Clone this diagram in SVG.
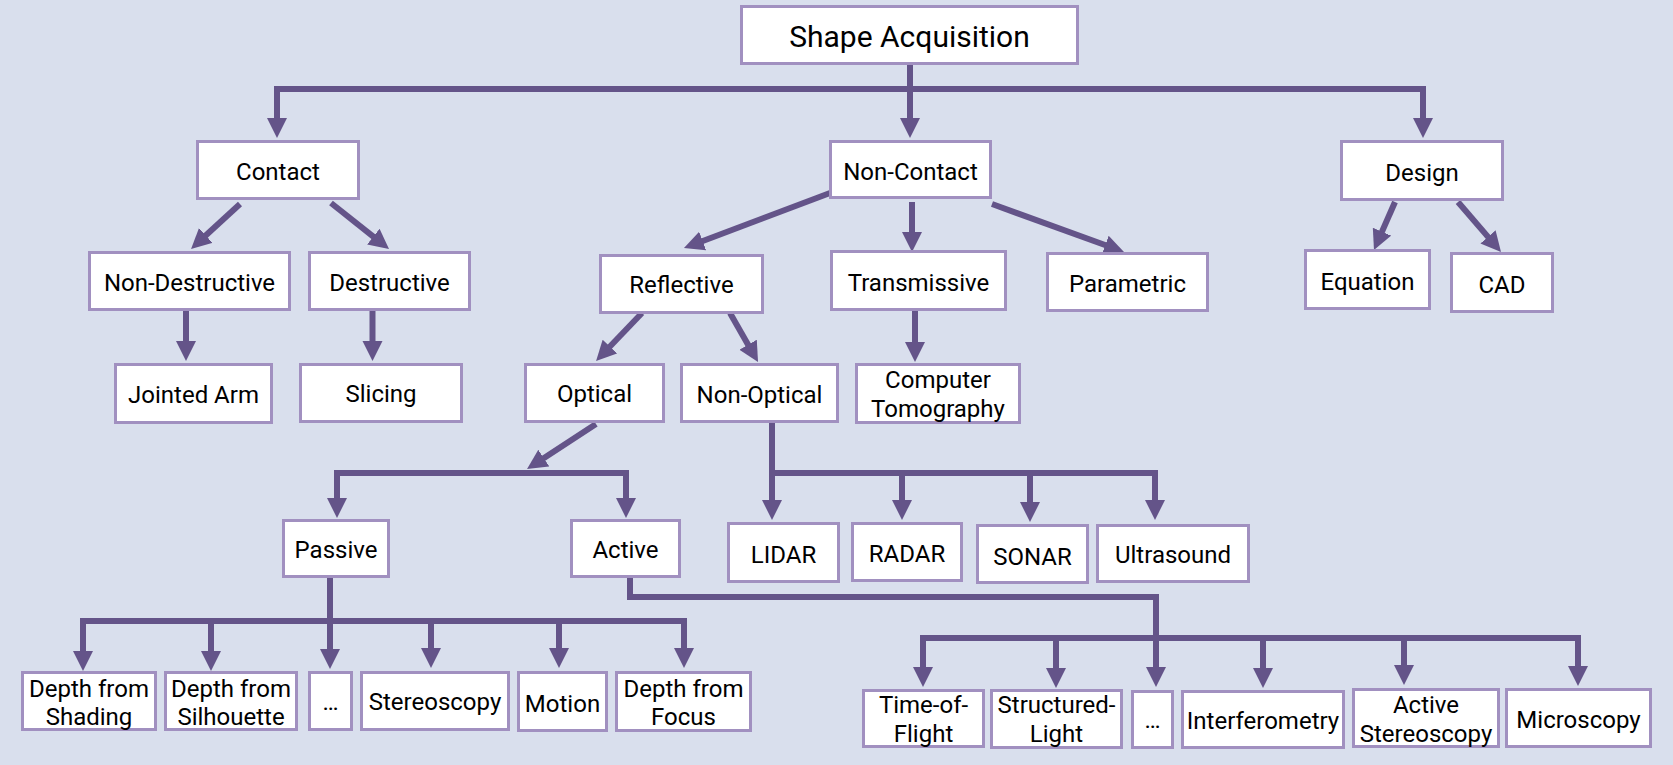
<svg xmlns="http://www.w3.org/2000/svg" width="1673" height="765" viewBox="0 0 1673 765">
<defs>
<marker id="ah" markerUnits="userSpaceOnUse" markerWidth="22" markerHeight="22" refX="2" refY="10" orient="auto">
<path d="M0,0 L20,10 L0,20 z" fill="#645489"/>
</marker>
<style>
.n rect{fill:#fff;stroke:#a190c0;stroke-width:3}
.n text{font-family:Roboto,"Liberation Sans",sans-serif;font-size:24px;fill:#000;text-anchor:middle}
.c path{fill:none;stroke:#645489;stroke-width:6;stroke-linejoin:miter}
.c .a{marker-end:url(#ah)}
</style>
</defs>
<rect width="1673" height="765" fill="#d9dfed"/>
<g class="c">
<path class="a" d="M910,65 V120"/>
<path class="a" d="M910,89 H277 V120"/>
<path class="a" d="M910,89 H1423 V120"/>
<path class="a" d="M240,204 L204.3,236.8"/>
<path class="a" d="M331,203 L374.9,237.8"/>
<path class="a" d="M186,311 V343"/>
<path class="a" d="M372.5,311 V343"/>
<path class="a" d="M830,193 L700.8,241.7"/>
<path class="a" d="M912,202 V234"/>
<path class="a" d="M992,204 L1107.1,245.8"/>
<path class="a" d="M1395,202 L1381.2,233.5"/>
<path class="a" d="M1458,202 L1489.3,238.4"/>
<path class="a" d="M642,313 L608.5,348"/>
<path class="a" d="M730,313 L749.1,346.4"/>
<path class="a" d="M915,311 V344"/>
<path class="a" d="M596,424 L542.1,459.2"/>
<path class="a" d="M527,473 H337 V500"/>
<path class="a" d="M527,473 H626 V500"/>
<path class="a" d="M772,423 V502"/>
<path class="a" d="M772,473 H902 V502"/>
<path class="a" d="M902,473 H1030 V504"/>
<path class="a" d="M1030,473 H1155 V502"/>
<path class="a" d="M330,578 V651"/>
<path class="a" d="M330,621 H83 V653"/>
<path class="a" d="M330,621 H211 V653"/>
<path class="a" d="M330,621 H431 V650"/>
<path class="a" d="M431,621 H559 V650"/>
<path class="a" d="M559,621 H684 V650"/>
<path class="a" d="M630,578 V597 H1156 V669"/>
<path class="a" d="M1156,638 H923 V669"/>
<path class="a" d="M1156,638 H1056 V670"/>
<path class="a" d="M1156,638 H1263 V670"/>
<path class="a" d="M1263,638 H1404 V667"/>
<path class="a" d="M1404,638 H1578 V668"/>
</g>
<g class="n" id="shape-acquisition"><rect x="741.5" y="6.5" width="336" height="57"/><text x="909.5" y="47" style="font-size:30px">Shape Acquisition</text></g>
<g class="n" id="contact"><rect x="197.5" y="141.5" width="161" height="57"/><text x="278" y="180">Contact</text></g>
<g class="n" id="non-contact"><rect x="830.5" y="141.5" width="160" height="56"/><text x="910.5" y="180">Non-Contact</text></g>
<g class="n" id="design"><rect x="1341.5" y="141.5" width="161" height="58"/><text x="1422" y="181">Design</text></g>
<g class="n" id="non-destructive"><rect x="89.5" y="252.5" width="200" height="57"/><text x="189.5" y="291">Non-Destructive</text></g>
<g class="n" id="destructive"><rect x="309.5" y="252.5" width="160" height="57"/><text x="389.5" y="291">Destructive</text></g>
<g class="n" id="reflective"><rect x="600.5" y="255.5" width="162" height="57"/><text x="681.5" y="293">Reflective</text></g>
<g class="n" id="transmissive"><rect x="831.5" y="251.5" width="174" height="58"/><text x="918.5" y="291">Transmissive</text></g>
<g class="n" id="parametric"><rect x="1047.5" y="253.5" width="160" height="57"/><text x="1127.5" y="292">Parametric</text></g>
<g class="n" id="equation"><rect x="1305.5" y="250.5" width="124" height="58"/><text x="1367.5" y="290">Equation</text></g>
<g class="n" id="cad"><rect x="1451.5" y="253.5" width="101" height="58"/><text x="1502" y="293">CAD</text></g>
<g class="n" id="jointed-arm"><rect x="115.5" y="364.5" width="156" height="58"/><text x="193.5" y="403">Jointed Arm</text></g>
<g class="n" id="slicing"><rect x="300.5" y="364.5" width="161" height="57"/><text x="381" y="402">Slicing</text></g>
<g class="n" id="optical"><rect x="525.5" y="364.5" width="138" height="57"/><text x="594.5" y="402">Optical</text></g>
<g class="n" id="non-optical"><rect x="681.5" y="364.5" width="156" height="57"/><text x="759.5" y="403">Non-Optical</text></g>
<g class="n" id="computer-tomography"><rect x="856.5" y="364.5" width="163" height="58"/><text x="938" y="388">Computer</text><text x="938" y="417">Tomography</text></g>
<g class="n" id="passive"><rect x="283.5" y="520.5" width="105" height="56"/><text x="336" y="558">Passive</text></g>
<g class="n" id="active"><rect x="571.5" y="520.5" width="108" height="56"/><text x="625.5" y="558">Active</text></g>
<g class="n" id="lidar"><rect x="728.5" y="523.5" width="110" height="58"/><text x="783.5" y="563">LIDAR</text></g>
<g class="n" id="radar"><rect x="852.5" y="523.5" width="109" height="57"/><text x="907" y="562">RADAR</text></g>
<g class="n" id="sonar"><rect x="977.5" y="525.5" width="110" height="57"/><text x="1032.5" y="565">SONAR</text></g>
<g class="n" id="ultrasound"><rect x="1097.5" y="525.5" width="151" height="56"/><text x="1173" y="563">Ultrasound</text></g>
<g class="n" id="depth-from-shading"><rect x="22.5" y="672.5" width="133" height="57"/><text x="89" y="697">Depth from</text><text x="89" y="725">Shading</text></g>
<g class="n" id="depth-from-silhouette"><rect x="165.5" y="672.5" width="131" height="57"/><text x="231" y="697">Depth from</text><text x="231" y="725">Silhouette</text></g>
<g class="n" id="passive-more"><rect x="309.5" y="672.5" width="42" height="57"/><text x="330.5" y="710">…</text></g>
<g class="n" id="stereoscopy"><rect x="361.5" y="672.5" width="147" height="57"/><text x="435" y="710">Stereoscopy</text></g>
<g class="n" id="motion"><rect x="518.5" y="672.5" width="88" height="58"/><text x="562.5" y="712">Motion</text></g>
<g class="n" id="depth-from-focus"><rect x="616.5" y="672.5" width="134" height="58"/><text x="683.5" y="697">Depth from</text><text x="683.5" y="725">Focus</text></g>
<g class="n" id="time-of-flight"><rect x="863.5" y="690.5" width="120" height="56"/><text x="923.5" y="713">Time-of-</text><text x="923.5" y="742">Flight</text></g>
<g class="n" id="structured-light"><rect x="991.5" y="690.5" width="130" height="57"/><text x="1056.5" y="713">Structured-</text><text x="1056.5" y="742">Light</text></g>
<g class="n" id="active-more"><rect x="1132.5" y="691.5" width="40" height="56"/><text x="1152.5" y="728">…</text></g>
<g class="n" id="interferometry"><rect x="1182.5" y="691.5" width="161" height="56"/><text x="1263" y="729">Interferometry</text></g>
<g class="n" id="active-stereoscopy"><rect x="1353.5" y="689.5" width="145" height="57"/><text x="1426" y="713">Active</text><text x="1426" y="742">Stereoscopy</text></g>
<g class="n" id="microscopy"><rect x="1506.5" y="689.5" width="144" height="57"/><text x="1578.5" y="728">Microscopy</text></g>
</svg>
